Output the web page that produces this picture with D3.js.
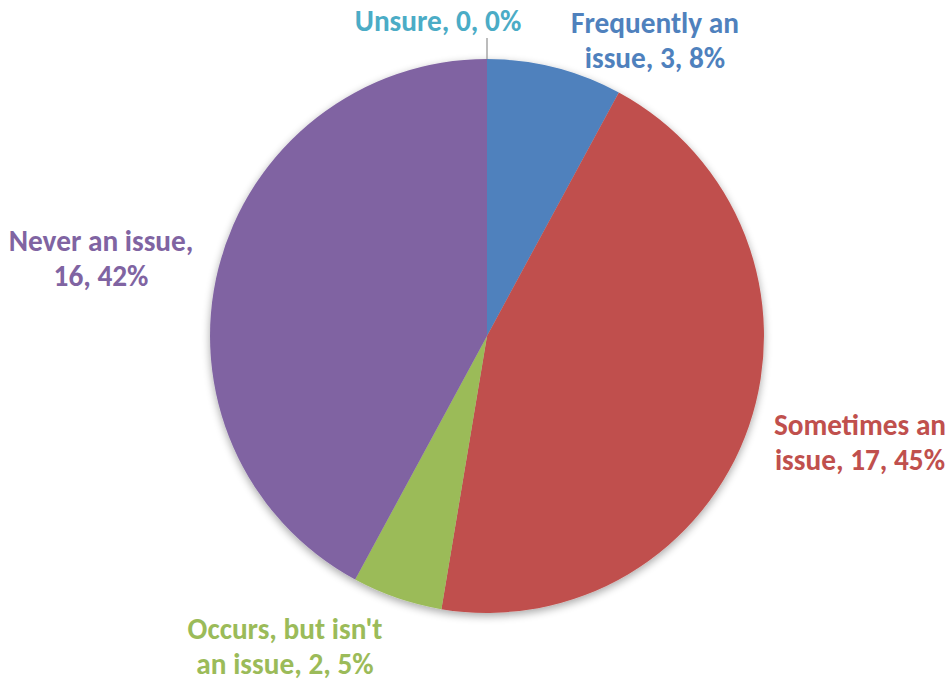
<!DOCTYPE html>
<html>
<head>
<meta charset="utf-8">
<script src="https://cdn.jsdelivr.net/npm/d3@7"></script>
<style>
  html, body { margin: 0; padding: 0; background: #fff; }
  svg { display: block; }
  .lbl { font-family: Carlito, Lato, "Liberation Sans", sans-serif; font-weight: 700; font-size: 29.3px; }
</style>
</head>
<body>
<svg id="chart" width="949" height="682"></svg>
<script>
// Survey responses
const categories = ["Frequently an issue", "Sometimes an issue", "Occurs, but isn't an issue", "Never an issue", "Unsure"];
const counts = [3, 17, 2, 16, 0];
const colors = ["#4F81BD", "#C0504D", "#9BBB59", "#8064A2", "#4BACC6"];
// Label text lines for each slice
const labelLines = [
  ["Frequently an", "issue, 3, 8%"],
  ["Sometimes an", "issue, 17, 45%"],
  ["Occurs, but isn't", "an issue, 2, 5%"],
  ["Never an issue,", "16, 42%"],
  ["Unsure, 0, 0%"]
];

const cx = 487, cy = 336, R = 277;
const lineGap = 35;

const svg = d3.select("#chart");

const defs = svg.append("defs");
const shadow = defs.append("filter").attr("id", "pieShadow")
  .attr("x", "-10%").attr("y", "-10%").attr("width", "120%").attr("height", "120%");
shadow.append("feGaussianBlur").attr("in", "SourceAlpha").attr("stdDeviation", 4).attr("result", "b");
shadow.append("feOffset").attr("in", "b").attr("dx", 0).attr("dy", 3).attr("result", "o");
shadow.append("feComponentTransfer").attr("in", "o").attr("result", "s")
  .append("feFuncA").attr("type", "linear").attr("slope", 0.35);
const merge = shadow.append("feMerge");
merge.append("feMergeNode").attr("in", "s");
merge.append("feMergeNode").attr("in", "SourceGraphic");

const data = categories.map((c, i) => ({ cat: c, value: counts[i], color: colors[i], lines: labelLines[i] }));

const pie = d3.pie().value(d => d.value).sort(null);
const arc = d3.arc().innerRadius(0).outerRadius(R);
const arcs = pie(data);

const g = svg.append("g").attr("transform", `translate(${cx},${cy})`);
g.append("g").attr("filter", "url(#pieShadow)")
  .selectAll("path")
  .data(arcs.filter(a => a.data.value > 0))
  .join("path")
  .attr("d", arc)
  .attr("fill", a => a.data.color);

// Leader line for the empty slice, placed at its (zero-width) angle
const zero = arcs[4];
const ang = zero.startAngle;
g.append("line")
  .attr("x1", Math.sin(ang) * R).attr("y1", -Math.cos(ang) * R)
  .attr("x2", Math.sin(ang) * (R + 21)).attr("y2", -Math.cos(ang) * (R + 21))
  .attr("stroke", "#A6A6A6").attr("stroke-width", 1.5);

// Label anchor positions (centre x, first baseline y)
const labelPos = [
  [655, 33],
  [860, 435],
  [285, 639],
  [101, 251],
  [438, 31]
];

svg.selectAll("text.lbl")
  .data(data)
  .join("text")
  .attr("class", "lbl")
  .attr("text-anchor", "middle")
  .attr("fill", d => d.color)
  .each(function(d, i) {
    const t = d3.select(this);
    d.lines.forEach((ln, k) => {
      t.append("tspan")
        .attr("x", labelPos[i][0])
        .attr("y", labelPos[i][1] + k * lineGap)
        .text(ln);
    });
  });
</script>
</body>
</html>
